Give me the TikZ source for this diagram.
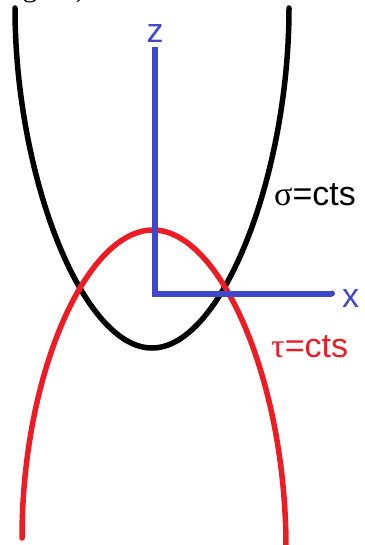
\documentclass[tikz,border=0pt]{standalone}
\usepackage{fontspec}
\setmainfont{Liberation Sans}
\newfontfamily\greekfont{Liberation Serif}
\definecolor{pblue}{RGB}{63,72,204}
\definecolor{pred}{RGB}{237,28,36}
\begin{document}
\begin{tikzpicture}[x=1pt,y=-1pt,
  curve/.style={line width=5.5pt,line cap=round,line join=round},
  lbl/.style={inner sep=0pt,font=\fontsize{34}{40}\selectfont}]
\useasboundingbox (0,0) rectangle (364,545);
\begin{scope}
\clip (0,0) rectangle (364,545);
\node[inner sep=0pt,anchor=base west,font=\greekfont\fontsize{30}{34}\selectfont] (cap) at (4,-3.5) {figure)};
% sigma = const (black)
\draw[curve,black] (15,8) .. controls (15,175) and (82,348) .. (152,348)
                          .. controls (222,348) and (289,175) .. (289,8);
% tau = const (red)
\draw[curve,pred] (22,538) .. controls (22,375) and (86,230) .. (153,230)
                         .. controls (220,230) and (286,380) .. (286,548);
\end{scope}
% axes
\draw[pblue,line width=6pt,line cap=butt,line join=miter] (154.5,47) -- (154.5,293.5) -- (332,293.5);
\fill[pblue] (332,293.5) circle (3pt);
% labels
\node[lbl,text=pblue,anchor=base] (zl) at (155,43) {z};
\node[lbl,text=pblue,anchor=base west] (xl) at (342,307) {x};
\node[lbl,text=black,anchor=base west] (sl) at (274,205) {{\greekfont σ}=cts};
\node[lbl,text=pred,anchor=base west] (tl) at (271,357) {{\greekfont τ}=cts};
\end{tikzpicture}
\end{document}
